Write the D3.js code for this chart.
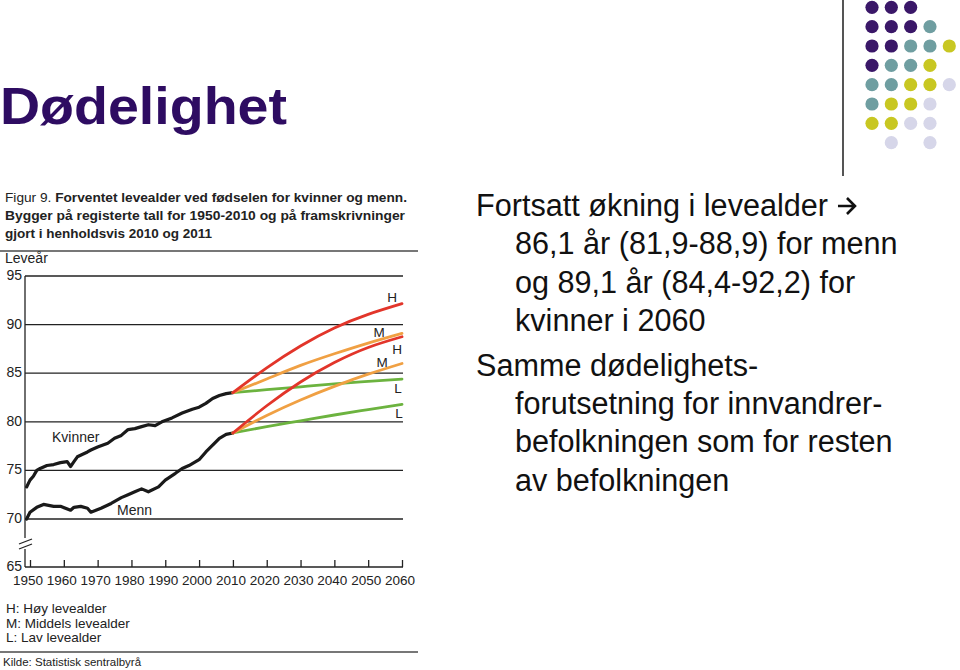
<!DOCTYPE html>
<html><head><meta charset="utf-8">
<script src="https://cdn.jsdelivr.net/npm/d3@7"></script>
<style>
html,body{margin:0;padding:0;background:#fff;}
svg{display:block;}
</style></head>
<body>
<svg id="c" width="960" height="670"></svg>
<script>
// ---------- data ----------
const womenYears = [1949,1950,1951,1952,1953,1955,1957,1959,1961,1962,1963,1964,1967,1968,1970,1973,1975,1977,1979,1981,1983,1985,1987,1989,1992,1995,1998,2000,2002,2004,2006,2008,2010];
const womenVals  = [73.3,74.0,74.4,75.0,75.2,75.5,75.6,75.8,75.9,75.4,75.9,76.4,76.9,77.1,77.4,77.8,78.3,78.6,79.2,79.3,79.5,79.7,79.6,80.0,80.4,80.9,81.3,81.5,81.9,82.4,82.7,82.9,83.0];
const menYears = [1949,1950,1952,1954,1957,1959,1962,1963,1965,1967,1968,1971,1974,1977,1979,1981,1983,1985,1988,1990,1993,1995,1997,2000,2002,2004,2006,2008,2010];
const menVals  = [70.0,70.7,71.2,71.5,71.3,71.3,70.9,71.2,71.3,71.1,70.7,71.1,71.6,72.2,72.5,72.8,73.1,72.8,73.3,74.0,74.7,75.2,75.5,76.1,76.9,77.6,78.3,78.7,78.85];
const projYears = [2010,2020,2030,2040,2050,2060];
const womenH = [83.0,85.55,87.8,89.65,91.05,92.15];
const womenM = [83.0,84.4,85.8,87.0,88.1,89.1];
const womenL = [83.0,83.3,83.6,83.9,84.15,84.4];
const menH   = [78.85,81.65,84.1,86.1,87.65,88.75];
const menM   = [78.85,80.65,82.25,83.65,84.9,86.0];
const menL   = [78.85,79.5,80.1,80.7,81.25,81.8];
const yTicks = [70,75,80,85,90,95];
const xTicks = [1950,1960,1970,1980,1990,2000,2010,2020,2030,2040,2050,2060];
const legendLines = ["H: Høy levealder","M: Middels levealder","L: Lav levealder"];
const figTitleLines = ["Forventet levealder ved fødselen for kvinner og menn.","Bygger på registerte tall for 1950-2010 og på framskrivninger","gjort i henholdsvis 2010 og 2011"];
const bulletLines = [
  {t:"Fortsatt økning i levealder", lvl:0, arrow:true},
  {t:"86,1 år (81,9-88,9) for menn", lvl:1},
  {t:"og 89,1 år (84,4-92,2) for", lvl:1},
  {t:"kvinner i 2060", lvl:1},
  {t:"Samme dødelighets-", lvl:0},
  {t:"forutsetning for innvandrer-", lvl:1},
  {t:"befolkningen som for resten", lvl:1},
  {t:"av befolkningen", lvl:1}
];
const dotPattern = ["PPP..","PPPT.","PPTTY","PTTY.","TTYYL","TYYL.","YYLL.",".L.L."];
const dotColors = {P:"#3a1768",T:"#6f9ea1",Y:"#c8c722",L:"#d6d6e9"};

// ---------- drawing ----------
const svg = d3.select("#c");
const font = "'Liberation Sans', Arial, Helvetica, sans-serif";

// slide title
svg.append("text").attr("x",0).attr("y",124).attr("font-family",font).attr("font-weight","bold")
  .attr("font-size",52).attr("fill","#2e0c62").attr("textLength",287).attr("lengthAdjust","spacingAndGlyphs")
  .text("Dødelighet");

// vertical rule
svg.append("line").attr("x1",843).attr("x2",843).attr("y1",0).attr("y2",176).attr("stroke","#555").attr("stroke-width",2);

// dots
const dx = d3.scaleLinear().domain([0,4]).range([872,949.3]);
const dy = d3.scaleLinear().domain([0,7]).range([7.3,142.7]);
const dots = [];
dotPattern.forEach((row,j)=>row.split("").forEach((c,i)=>{ if(c!==".") dots.push({i,j,c}); }));
svg.selectAll("circle.dot").data(dots).enter().append("circle").attr("class","dot")
  .attr("cx",d=>dx(d.i)).attr("cy",d=>dy(d.j)).attr("r",6.6).attr("fill",d=>dotColors[d.c]);

// right bullet text
const by = [216,254,293,331,376,414,452,491];
const bt = svg.selectAll("text.bul").data(bulletLines).enter().append("text").attr("class","bul")
  .attr("x",d=>d.lvl?515:476).attr("y",(d,i)=>by[i]).attr("font-family",font).attr("font-size",30.6)
  .attr("fill","#111").text(d=>d.t);
// arrow after first line
const firstW = bt.filter((d,i)=>i===0).node().getComputedTextLength();
const ax0 = 476 + firstW + 10, ay = by[0]-10;
svg.append("path").attr("d",`M${ax0},${ay} L${ax0+17},${ay} M${ax0+9},${ay-8} L${ax0+17},${ay} L${ax0+9},${ay+8}`)
  .attr("fill","none").attr("stroke","#111").attr("stroke-width",2.6).attr("stroke-linecap","butt").attr("stroke-linejoin","miter");

// figure header
const hdr = svg.append("g");
const t1 = hdr.append("text").attr("x",5).attr("y",202).attr("font-family",font).attr("font-size",13.5).attr("fill","#222")
  .attr("textLength",402).attr("lengthAdjust","spacingAndGlyphs");
t1.append("tspan").text("Figur 9. ");
t1.append("tspan").attr("font-weight","bold").text(figTitleLines[0]);
hdr.append("text").attr("x",5).attr("y",220).attr("font-family",font).attr("font-size",13.5).attr("font-weight","bold").attr("fill","#222")
  .attr("textLength",400).attr("lengthAdjust","spacingAndGlyphs").text(figTitleLines[1]);
hdr.append("text").attr("x",5).attr("y",238).attr("font-family",font).attr("font-size",13.5).attr("font-weight","bold").attr("fill","#222")
  .text(figTitleLines[2]);
svg.append("line").attr("x1",0).attr("x2",418).attr("y1",251).attr("y2",251).attr("stroke","#777").attr("stroke-width",2);
svg.append("text").attr("x",5).attr("y",263).attr("font-family",font).attr("font-size",14).attr("fill","#222").text("Leveår");

// scales
const x = d3.scaleLinear().domain([1950,2060]).range([30,402]);
const y = d3.scaleLinear().domain([65,70,95]).range([567,519,276]);
const left = 25, right = 403;

// gridlines
svg.selectAll("line.grid").data(yTicks).enter().append("line").attr("class","grid")
  .attr("x1",left).attr("x2",right).attr("y1",d=>y(d)).attr("y2",d=>y(d)).attr("stroke","#222").attr("stroke-width",1.3);
svg.selectAll("text.ytl").data(yTicks.concat([65])).enter().append("text").attr("class","ytl")
  .attr("x",22).attr("y",d=>y(d)+4).attr("text-anchor","end").attr("font-family",font).attr("font-size",14).attr("fill","#222")
  .text(d=>d);

// y axis with break
svg.append("line").attr("x1",left).attr("x2",left).attr("y1",y(95)).attr("y2",538).attr("stroke","#222").attr("stroke-width",1.3);
svg.append("line").attr("x1",left).attr("x2",left).attr("y1",549).attr("y2",y(65)).attr("stroke","#222").attr("stroke-width",1.3);
svg.append("line").attr("x1",19).attr("x2",32).attr("y1",544).attr("y2",539).attr("stroke","#222").attr("stroke-width",1.3);
svg.append("line").attr("x1",19).attr("x2",32).attr("y1",549).attr("y2",544).attr("stroke","#222").attr("stroke-width",1.3);

// x axis
const xAxis = d3.axisTop(x).tickValues(xTicks).tickSize(7).tickFormat("");
const xg = svg.append("g").attr("transform",`translate(0,${y(65)})`).call(xAxis);
xg.select(".domain").remove();
xg.selectAll(".tick line").attr("stroke","#222").attr("stroke-width",1.3);
svg.append("line").attr("x1",left).attr("x2",right).attr("y1",y(65)).attr("y2",y(65)).attr("stroke","#222").attr("stroke-width",1.3);
svg.selectAll("text.xtl").data(xTicks).enter().append("text").attr("class","xtl")
  .attr("x",d=>x(d)-2).attr("y",585).attr("text-anchor","middle").attr("font-family",font).attr("font-size",13.5).attr("fill","#222")
  .text(d=>d);

// historical lines
const line = d3.line().x(d=>x(d[0])).y(d=>y(d[1])).curve(d3.curveLinear);
const wData = womenYears.map((yr,i)=>[yr,womenVals[i]]);
const mData = menYears.map((yr,i)=>[yr,menVals[i]]);
[wData,mData].forEach(dd=>{
  svg.append("path").datum(dd).attr("d",line).attr("fill","none").attr("stroke","#1a1a1a")
    .attr("stroke-width",3.2).attr("stroke-linejoin","round").attr("stroke-linecap","round");
});

// projections
const pline = d3.line().x(d=>x(d[0])).y(d=>y(d[1])).curve(d3.curveNatural);
const projColors = {H:"#e2352a",M:"#f0a043",L:"#6cb33f"};
const projs = [
  {k:"L",v:womenL},{k:"L",v:menL},
  {k:"M",v:womenM},{k:"M",v:menM},
  {k:"H",v:womenH},{k:"H",v:menH}
];
projs.forEach(p=>{
  svg.append("path").datum(projYears.map((yr,i)=>[yr,p.v[i]])).attr("d",pline).attr("fill","none")
    .attr("stroke",projColors[p.k]).attr("stroke-width",2.8).attr("stroke-linecap","round");
});

// scenario end labels
const endLabels = [
  {t:"H",x:392,y:302},{t:"M",x:379,y:337},{t:"H",x:397,y:354},
  {t:"M",x:382,y:367},{t:"L",x:398,y:393},{t:"L",x:399,y:418}
];
svg.selectAll("text.sl").data(endLabels).enter().append("text").attr("class","sl")
  .attr("x",d=>d.x).attr("y",d=>d.y).attr("text-anchor","middle").attr("font-family",font).attr("font-size",13.5).attr("fill","#222")
  .text(d=>d.t);

// series labels
svg.append("text").attr("x",52).attr("y",442).attr("font-family",font).attr("font-size",14).attr("fill","#222").text("Kvinner");
svg.append("text").attr("x",117).attr("y",515).attr("font-family",font).attr("font-size",14).attr("fill","#222").text("Menn");

// legend
svg.selectAll("text.leg").data(legendLines).enter().append("text").attr("class","leg")
  .attr("x",6).attr("y",(d,i)=>613+i*14.5).attr("font-family",font).attr("font-size",13.5).attr("fill","#222").text(d=>d);
svg.append("line").attr("x1",0).attr("x2",418).attr("y1",652).attr("y2",652).attr("stroke","#777").attr("stroke-width",2);
svg.append("text").attr("x",3).attr("y",666).attr("font-family",font).attr("font-size",11.5).attr("fill","#222").text("Kilde: Statistisk sentralbyrå");
</script>
</body></html>
